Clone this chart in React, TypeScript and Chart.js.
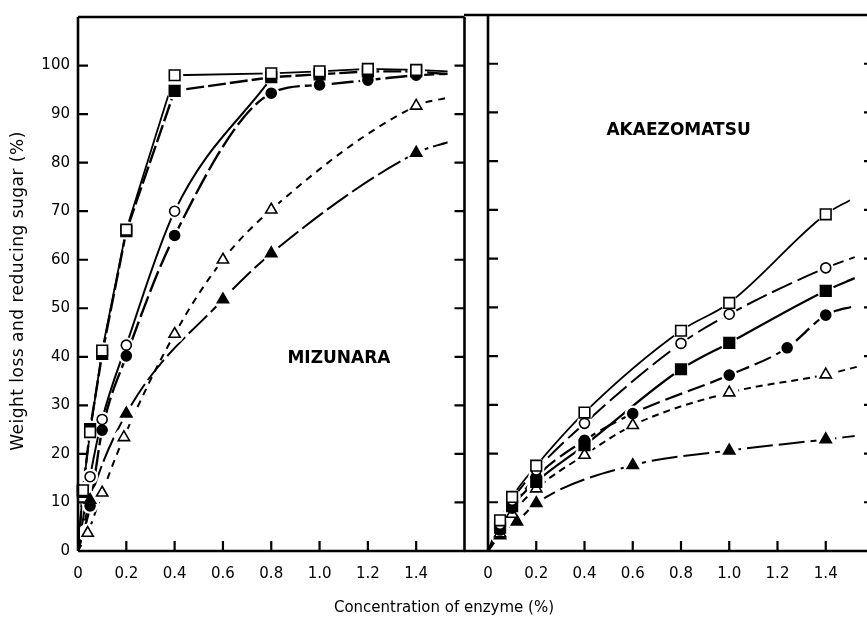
import React, { useEffect, useRef } from 'react';
import { Chart, registerables } from 'chart.js';

Chart.register(...registerables);

// ---------- axes ----------
const X_TICKS = [0, 0.2, 0.4, 0.6, 0.8, 1.0, 1.2, 1.4];
const Y_TICKS = [0, 10, 20, 30, 40, 50, 60, 70, 80, 90, 100];
const X_MAX = 1.6;
const Y_MAX = 110;

// ---------- MIZUNARA (left panel) ----------
const MIZ_OPEN_SQ_X = [0, 0.02, 0.05, 0.1, 0.2, 0.4, 0.8, 1.0, 1.2, 1.4, 1.53];
const MIZ_OPEN_SQ_Y = [0, 12.5, 24.5, 41.3, 66.2, 98, 98.4, 98.8, 99.3, 99.1, 98.8];
const MIZ_FILL_SQ_X = [0, 0.02, 0.05, 0.1, 0.2, 0.4, 0.8, 1.0, 1.2, 1.4, 1.53];
const MIZ_FILL_SQ_Y = [0, 12.2, 25.1, 40.6, 65.9, 94.8, 97.6, 98.2, 98.8, 98.8, 98.2];
const MIZ_OPEN_CI_X = [0, 0.05, 0.1, 0.2, 0.4, 0.8];
const MIZ_OPEN_CI_Y = [0, 15.3, 27.1, 42.4, 70, 97.4];
const MIZ_FILL_CI_X = [0, 0.05, 0.1, 0.2, 0.4, 0.8, 1.0, 1.2, 1.4, 1.53];
const MIZ_FILL_CI_Y = [0, 9.3, 24.9, 40.2, 65, 94.3, 96, 97, 98, 98.3];
const MIZ_OPEN_TR_X = [0, 0.04, 0.1, 0.19, 0.4, 0.6, 0.8, 1.4, 1.53];
const MIZ_OPEN_TR_Y = [0, 3.7, 12, 23.4, 44.7, 60, 70.3, 91.7, 93.4];
const MIZ_FILL_TR_X = [0, 0.05, 0.2, 0.6, 0.8, 1.4, 1.53];
const MIZ_FILL_TR_Y = [0, 10.5, 28.3, 51.8, 61.3, 82, 84.2];

// ---------- AKAEZOMATSU (right panel) ----------
const AKA_OPEN_SQ_X = [0, 0.05, 0.1, 0.2, 0.4, 0.8, 1.0, 1.4, 1.5];
const AKA_OPEN_SQ_Y = [0, 6.3, 11.1, 17.5, 28.4, 45.2, 50.9, 69.1, 72];
const AKA_OPEN_CI_X = [0, 0.05, 0.1, 0.2, 0.4, 0.8, 1.0, 1.4, 1.52];
const AKA_OPEN_CI_Y = [0, 5.5, 10.4, 16.6, 26.2, 42.6, 48.6, 58.1, 60.3];
const AKA_FILL_SQ_X = [0, 0.05, 0.1, 0.2, 0.4, 0.8, 1.0, 1.4, 1.52];
const AKA_FILL_SQ_Y = [0, 4.8, 9.2, 14.2, 21.7, 37.3, 42.7, 53.4, 56];
const AKA_FILL_CI_X = [0, 0.05, 0.1, 0.2, 0.4, 0.6, 1.0, 1.24, 1.4, 1.52];
const AKA_FILL_CI_Y = [0, 4.3, 8.8, 15.2, 22.7, 28.2, 36.1, 41.7, 48.4, 50.3];
const AKA_OPEN_TR_X = [0, 0.05, 0.1, 0.2, 0.4, 0.6, 1.0, 1.4, 1.53];
const AKA_OPEN_TR_Y = [0, 3.6, 7.6, 12.8, 19.7, 25.8, 32.5, 36.2, 37.8];
const AKA_FILL_TR_X = [0, 0.05, 0.12, 0.2, 0.6, 1.0, 1.4, 1.52];
const AKA_FILL_TR_Y = [0, 3.2, 6, 9.8, 17.6, 20.6, 22.9, 23.6];

// panel labels (data coordinates)
const MIZ_LABEL = { text: 'MIZUNARA', x: 1.08, y: 39.6 };
const AKA_LABEL = { text: 'AKAEZOMATSU', x: 0.79, y: 86.2 };

const FONT = '"DejaVu Sans", "Liberation Sans", Arial, sans-serif';

type Marker = 'openSq' | 'fillSq' | 'openCi' | 'fillCi' | 'openTr' | 'fillTr';

function series(xs: number[], ys: number[], marker: Marker, dash: number[], width: number, straight = false) {
  const n = xs.length;
  const style = marker.endsWith('Sq') ? 'rect' : marker.endsWith('Ci') ? 'circle' : 'triangle';
  const filled = marker.startsWith('fill');
  const r = style === 'rect' ? 7.5 : style === 'circle' ? 5 : 6.5;
  return {
    data: xs.map((x, i) => ({ x, y: ys[i] })),
    borderColor: '#000',
    borderWidth: width,
    borderDash: dash,
    backgroundColor: filled ? '#000' : '#fff',
    pointStyle: style,
    pointBackgroundColor: filled ? '#000' : '#fff',
    pointBorderColor: '#000',
    pointBorderWidth: 1.6,
    pointRadius: (c: any) => (c.dataIndex === 0 || c.dataIndex === n - 1 ? 0 : r),
    pointHoverRadius: 0,
    cubicInterpolationMode: straight ? 'default' : 'monotone',
    tension: straight ? 0 : 0.4,
    fill: false,
  };
}

function makePlugin(label: { text: string; x: number; y: number }, extendLeft: boolean) {
  return {
    id: 'panelFrame',
    afterDatasetsDraw(chart: any) {
      const ctx = chart.ctx;
      const a = chart.chartArea;
      ctx.save();
      ctx.beginPath();
      ctx.rect(a.left + 2, a.top + 2, a.right - a.left - 4, a.bottom - a.top - 4);
      ctx.clip();
      ctx.fillStyle = '#fff';
      chart.data.datasets.forEach((_: any, i: number) => {
        const meta = chart.getDatasetMeta(i);
        meta.data.forEach((pt: any) => {
          const r = pt.options.radius;
          if (!r) return;
          const hr = pt.options.pointStyle === 'rect' ? r * 0.75 + 3 : r + 3;
          ctx.beginPath();
          ctx.arc(pt.x, pt.y, hr, 0, Math.PI * 2);
          ctx.fill();
        });
      });
      ctx.restore();
      chart.data.datasets.forEach((_: any, i: number) => {
        const meta = chart.getDatasetMeta(i);
        meta.data.forEach((pt: any) => {
          if (pt.options.radius) pt.draw(ctx, a);
        });
      });
    },
    afterDraw(chart: any) {
      const ctx = chart.ctx;
      const a = chart.chartArea;
      const xs = chart.scales.x;
      const ys = chart.scales.y;
      ctx.save();
      ctx.strokeStyle = '#000';
      ctx.lineWidth = 2.6;
      ctx.beginPath();
      const l0 = extendLeft ? 0 : a.left;
      ctx.moveTo(l0, a.top);
      ctx.lineTo(a.right, a.top);
      ctx.moveTo(l0, a.bottom);
      ctx.lineTo(a.right, a.bottom);
      ctx.moveTo(a.left, a.top);
      ctx.lineTo(a.left, a.bottom);
      ctx.moveTo(a.right, a.top);
      ctx.lineTo(a.right, a.bottom);
      ctx.stroke();
      ctx.lineWidth = 2.2;
      ctx.beginPath();
      ys.ticks.forEach((t: any) => {
        if (t.value <= 0 || t.value >= Y_MAX) return;
        const py = ys.getPixelForValue(t.value);
        ctx.moveTo(a.left, py);
        ctx.lineTo(a.left + 10, py);
        ctx.moveTo(a.right - 10, py);
        ctx.lineTo(a.right, py);
      });
      xs.ticks.forEach((t: any) => {
        if (t.value <= 0 || t.value >= X_MAX) return;
        const px = xs.getPixelForValue(t.value);
        ctx.moveTo(px, a.bottom);
        ctx.lineTo(px, a.bottom - 10);
      });
      ctx.stroke();
      ctx.fillStyle = '#000';
      ctx.font = `bold 17px ${FONT}`;
      ctx.textAlign = 'center';
      ctx.textBaseline = 'middle';
      ctx.fillText(label.text, xs.getPixelForValue(label.x), ys.getPixelForValue(label.y));
      ctx.restore();
    },
  };
}

function makeConfig(datasets: any[], opts: { yWidth: number; showY: boolean; padRight: number; label: any; extendLeft: boolean }) {
  return {
    type: 'line',
    data: { datasets },
    options: {
      responsive: false,
      animation: false,
      events: [],
      layout: { padding: { top: 15, right: opts.padRight, left: 0, bottom: 0 } },
      plugins: { legend: { display: false }, tooltip: { enabled: false }, title: { display: false } },
      scales: {
        x: {
          type: 'linear',
          min: 0,
          max: X_MAX,
          grid: { display: false, drawTicks: false, tickLength: 0 },
          border: { display: false },
          afterBuildTicks: (s: any) => {
            s.ticks = X_TICKS.map((v) => ({ value: v }));
          },
          afterFit: (s: any) => {
            s.height = 70;
          },
          ticks: {
            color: '#000',
            font: { family: FONT, size: 15 },
            padding: 14,
            maxRotation: 0,
            autoSkip: false,
            callback: (v: any) => (v === 0 ? '0' : Number(v).toFixed(1)),
          },
        },
        y: {
          type: 'linear',
          min: 0,
          max: Y_MAX,
          grid: { display: false, drawTicks: false, tickLength: 0 },
          border: { display: false },
          afterBuildTicks: (s: any) => {
            s.ticks = Y_TICKS.map((v) => ({ value: v }));
          },
          afterFit: (s: any) => {
            s.width = opts.yWidth;
          },
          ticks: {
            display: opts.showY,
            color: '#000',
            font: { family: FONT, size: 15 },
            padding: 8,
            autoSkip: false,
            callback: (v: any) => String(v),
          },
        },
      },
    },
    plugins: [makePlugin(opts.label, opts.extendLeft)],
  };
}

export default function App() {
  const leftRef = useRef<HTMLCanvasElement>(null);
  const rightRef = useRef<HTMLCanvasElement>(null);

  useEffect(() => {
    const leftSets = [
      series(MIZ_OPEN_TR_X, MIZ_OPEN_TR_Y, 'openTr', [7, 6], 2),
      series(MIZ_FILL_TR_X, MIZ_FILL_TR_Y, 'fillTr', [26, 5], 2),
      series(MIZ_OPEN_CI_X, MIZ_OPEN_CI_Y, 'openCi', [], 2),
      series(MIZ_FILL_CI_X, MIZ_FILL_CI_Y, 'fillCi', [22, 5], 2.4),
      series(MIZ_FILL_SQ_X, MIZ_FILL_SQ_Y, 'fillSq', [18, 4], 2.4, true),
      series(MIZ_OPEN_SQ_X, MIZ_OPEN_SQ_Y, 'openSq', [], 1.8, true),
    ];
    const rightSets = [
      series(AKA_FILL_TR_X, AKA_FILL_TR_Y, 'fillTr', [26, 6], 2),
      series(AKA_OPEN_TR_X, AKA_OPEN_TR_Y, 'openTr', [7, 5], 2),
      series(AKA_FILL_CI_X, AKA_FILL_CI_Y, 'fillCi', [18, 6], 2.2),
      series(AKA_FILL_SQ_X, AKA_FILL_SQ_Y, 'fillSq', [], 2.2),
      series(AKA_OPEN_CI_X, AKA_OPEN_CI_Y, 'openCi', [22, 6], 2),
      series(AKA_OPEN_SQ_X, AKA_OPEN_SQ_Y, 'openSq', [], 1.8),
    ];
    const c1 = new Chart(leftRef.current as any, makeConfig(leftSets, {
      yWidth: 78, showY: true, padRight: 5.5, label: MIZ_LABEL, extendLeft: false,
    }) as any);
    const c2 = new Chart(rightRef.current as any, makeConfig(rightSets, {
      yWidth: 24, showY: false, padRight: 0, label: AKA_LABEL, extendLeft: true,
    }) as any);
    return () => {
      c1.destroy();
      c2.destroy();
    };
  }, []);

  return (
    <div style={{ position: 'fixed', left: 0, top: 0, width: 867, height: 621, overflow: 'hidden', background: '#fff' }}>
      <canvas ref={leftRef} width={470} height={621} style={{ position: 'absolute', left: 0, top: 0, width: 470, height: 621 }} />
      <canvas ref={rightRef} width={410} height={621} style={{ position: 'absolute', left: 464, top: 0, width: 410, height: 621 }} />
      <div style={{ position: 'absolute', left: 17 - 200, top: 291 - 11, width: 400, height: 22, lineHeight: '22px', textAlign: 'center', transform: 'rotate(-90deg)', transformOrigin: '50% 50%', fontFamily: FONT, fontSize: 17, letterSpacing: '0.5px', color: '#000', whiteSpace: 'nowrap' }}>
        Weight loss and reducing sugar (%)
      </div>
      <div style={{ position: 'absolute', left: 444 - 200, top: 597, width: 400, height: 20, lineHeight: '20px', textAlign: 'center', fontFamily: FONT, fontSize: 15, color: '#000', whiteSpace: 'nowrap' }}>
        Concentration of enzyme (%)
      </div>
    </div>
  );
}
